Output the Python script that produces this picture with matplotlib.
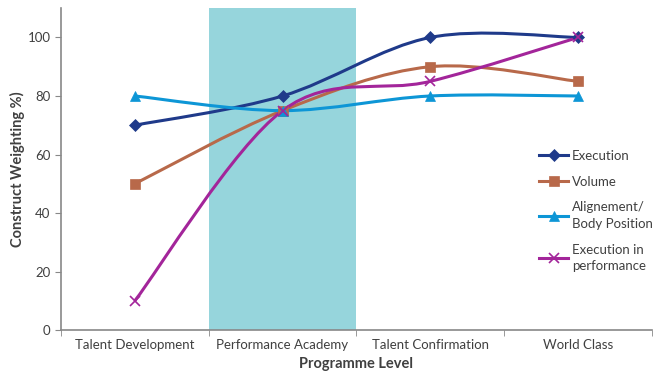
import numpy as np
import matplotlib.pyplot as plt
from matplotlib.path import Path
from matplotlib.patches import PathPatch
from matplotlib.lines import Line2D

plt.rcParams['font.family'] = ['Lato', 'DejaVu Sans']

levels = ["Talent Development", "Performance Academy", "Talent Confirmation", "World Class"]
execution = [70, 80, 100, 100]
volume = [50, 75, 90, 85]
alignment = [80, 75, 80, 80]
exec_perf = [10, 75, 85, 100]

series = [
    ("Execution", execution, "#1F3A8A", "D", 6),
    ("Volume", volume, "#B8694A", "s", 7),
    ("Alignement/\nBody Position", alignment, "#0D96D6", "^", 7),
    ("Execution in\nperformance", exec_perf, "#A3259A", "x", 7),
]


def smooth_path(xs, ys):
    # Excel-like smoothed line: cubic bezier segments, catmull-rom control points
    pts = np.column_stack([xs, ys]).astype(float)
    n = len(pts)
    verts = [pts[0]]
    codes = [Path.MOVETO]
    for i in range(n - 1):
        p0 = pts[i - 1] if i > 0 else pts[i]
        p1 = pts[i]
        p2 = pts[i + 1]
        p3 = pts[i + 2] if i + 2 < n else pts[i + 1]
        c1 = p1 + (p2 - p0) / 6.0
        c2 = p2 - (p3 - p1) / 6.0
        verts += [c1, c2, p2]
        codes += [Path.CURVE4] * 3
    return Path(verts, codes)


fig = plt.figure(figsize=(6.54, 3.71), dpi=100)
ax = fig.add_axes([0.093, 0.11, 0.904, 0.868])

x = np.arange(len(levels))
ax.axvspan(0.5, 1.5, color="#96D5DC", zorder=0, lw=0)

handles = []
for name, vals, col, mk, ms in series:
    ax.add_patch(PathPatch(smooth_path(x, vals), fill=False, edgecolor=col, lw=2.2, zorder=2))
    mew = 1.2 if mk == "x" else 0.5
    ax.plot(x, vals, ls="none", marker=mk, color=col, ms=ms, mew=mew, zorder=3)
    handles.append(Line2D([0], [0], color=col, lw=2.2, marker=mk, ms=ms, mew=mew, label=name))

ax.set_xlim(-0.5, 3.5)
ax.set_ylim(0, 110)
ax.set_yticks([0, 20, 40, 60, 80, 100])
ax.set_xticks(x)
ax.set_xticklabels(levels)
ax.set_xticks([-0.5, 0.5, 1.5, 2.5, 3.5], minor=True)
ax.tick_params(axis="x", which="major", length=0, labelsize=9.5, colors="#404040", pad=6)
ax.tick_params(axis="x", which="minor", length=4, color="#888888")
ax.tick_params(axis="y", labelsize=9.5, colors="#404040", length=4, color="#888888")
for s in ["top", "right"]:
    ax.spines[s].set_visible(False)
for s in ["left", "bottom"]:
    ax.spines[s].set_color("#888888")
    ax.spines[s].set_linewidth(1.2)

ax.set_xlabel("Programme Level", fontsize=10.5, fontweight="bold", color="#404040", labelpad=5)
ax.set_ylabel("Construct Weighting %)", fontsize=10.5, fontweight="bold", color="#404040", labelpad=2)

leg = ax.legend(handles=handles, loc="center left", bbox_to_anchor=(0.8, 0.37), frameon=False,
                fontsize=9.5, handlelength=2.2, handletextpad=0.3, labelspacing=1.05, borderaxespad=0)
for t in leg.get_texts():
    t.set_color("#404040")
    t.set_linespacing(1.45)

fig.savefig("out.png", dpi=100)
